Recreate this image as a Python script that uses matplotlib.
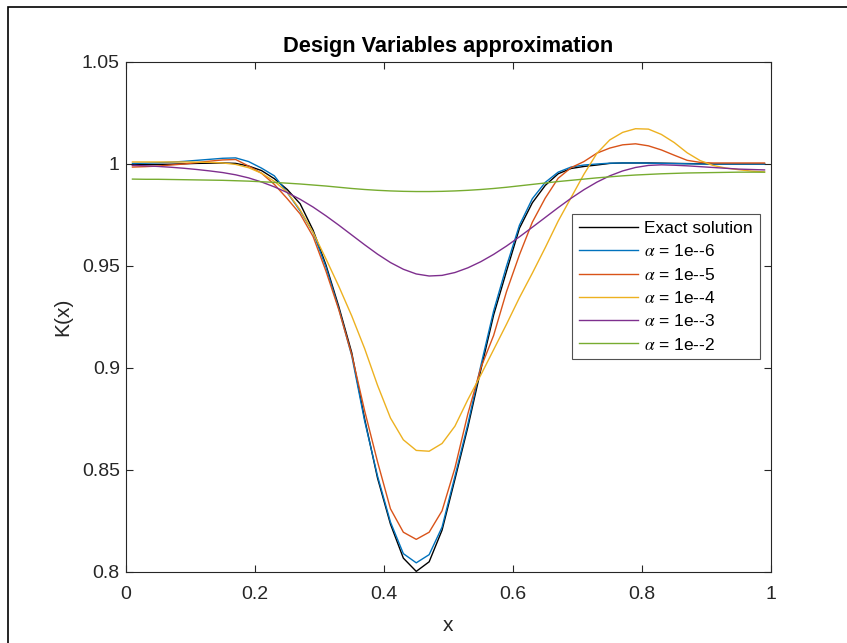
import numpy as np
import matplotlib

matplotlib.use('Agg')
import matplotlib.pyplot as plt
from matplotlib.patches import Rectangle

plt.rcParams['font.family'] = ['Liberation Sans', 'DejaVu Sans']
plt.rcParams['mathtext.fontset'] = 'stix'

# cell centres of the 50-element mesh
x = (np.arange(50) + 0.5) / 50

k_exact = [0.9996, 0.9997, 0.9998, 0.9999, 1.0001, 1.0003, 1.0004, 1.0005, 1.0003, 0.9990,
           0.9968, 0.9928, 0.9875, 0.9805, 0.9676, 0.9505, 0.9300, 0.9075, 0.8750, 0.8460,
           0.8235, 0.8068, 0.8003, 0.8050, 0.8205, 0.8455, 0.8710, 0.8990, 0.9260, 0.9475,
           0.9685, 0.9810, 0.9895, 0.9952, 0.9978, 0.9988, 0.9995, 1.0003, 1.0005, 1.0005,
           1.0005, 1.0004, 1.0003, 1.0002, 1.0001, 1.0000, 1.0000, 1.0000, 1.0000, 1.0000]

k_1e6 = [1.0003, 1.0004, 1.0006, 1.0009, 1.0013, 1.0018, 1.0023, 1.0028, 1.0030, 1.0012,
         0.9980, 0.9942, 0.9860, 0.9770, 0.9665, 0.9495, 0.9290, 0.9060, 0.8740, 0.8470,
         0.8245, 0.8090, 0.8045, 0.8085, 0.8220, 0.8470, 0.8725, 0.9010, 0.9280, 0.9500,
         0.9700, 0.9830, 0.9910, 0.9960, 0.9985, 0.9995, 1.0000, 1.0004, 1.0005, 1.0005,
         1.0004, 1.0003, 1.0002, 1.0001, 1.0000, 1.0000, 1.0000, 1.0000, 1.0000, 1.0000]

k_1e5 = [0.9985, 0.9987, 0.9990, 0.9995, 1.0000, 1.0007, 1.0014, 1.0020, 1.0022, 0.9990,
         0.9955, 0.9900, 0.9830, 0.9755, 0.9645, 0.9475, 0.9285, 0.9065, 0.8790, 0.8540,
         0.8310, 0.8195, 0.8160, 0.8195, 0.8300, 0.8510, 0.8775, 0.9000, 0.9160, 0.9375,
         0.9555, 0.9715, 0.9833, 0.9930, 0.9982, 1.0012, 1.0053, 1.0078, 1.0094, 1.0099,
         1.0089, 1.0069, 1.0043, 1.0018, 1.0008, 1.0005, 1.0005, 1.0005, 1.0005, 1.0005]

k_1e4 = [1.0010, 1.0010, 1.0010, 1.0010, 1.0010, 1.0009, 1.0008, 1.0005, 0.9998, 0.9982,
         0.9955, 0.9915, 0.9862, 0.9775, 0.9665, 0.9535, 0.9400, 0.9255, 0.9095, 0.8915,
         0.8755, 0.8648, 0.8596, 0.8592, 0.8630, 0.8715, 0.8845, 0.8965, 0.9090, 0.9215,
         0.9345, 0.9465, 0.9590, 0.9720, 0.9835, 0.9950, 1.0052, 1.0118, 1.0155, 1.0173,
         1.0171, 1.0145, 1.0105, 1.0055, 1.0017, 0.9993, 0.9980, 0.9972, 0.9965, 0.9961]

k_1e3 = [0.9993, 0.9991, 0.9988, 0.9984, 0.9979, 0.9973, 0.9966, 0.9958, 0.9947, 0.9932,
         0.9912, 0.9888, 0.9860, 0.9827, 0.9789, 0.9746, 0.9700, 0.9652, 0.9604, 0.9558,
         0.9517, 0.9484, 0.9461, 0.9451, 0.9454, 0.9468, 0.9491, 0.9521, 0.9557, 0.9598,
         0.9643, 0.9690, 0.9738, 0.9786, 0.9832, 0.9874, 0.9911, 0.9942, 0.9966, 0.9983,
         0.9993, 0.9996, 0.9994, 0.9991, 0.9987, 0.9983, 0.9979, 0.9975, 0.9973, 0.9971]

k_1e2 = [0.9926, 0.9925, 0.9925, 0.9924, 0.9923, 0.9922, 0.9921, 0.9920, 0.9918, 0.9916,
         0.9913, 0.9910, 0.9906, 0.9902, 0.9897, 0.9892, 0.9886, 0.9880, 0.9875, 0.9871,
         0.9868, 0.9866, 0.9865, 0.9865, 0.9866, 0.9868, 0.9871, 0.9875, 0.9880, 0.9886,
         0.9893, 0.9900, 0.9907, 0.9914, 0.9920, 0.9926, 0.9932, 0.9937, 0.9942, 0.9946,
         0.9949, 0.9952, 0.9954, 0.9956, 0.9957, 0.9958, 0.9959, 0.9960, 0.9960, 0.9960]

series = [
    ('Exact solution', k_exact, 'black'),
    (r'$\alpha$ = 1e--6', k_1e6, (0.0, 0.447, 0.741)),
    (r'$\alpha$ = 1e--5', k_1e5, (0.85, 0.325, 0.098)),
    (r'$\alpha$ = 1e--4', k_1e4, (0.929, 0.694, 0.125)),
    (r'$\alpha$ = 1e--3', k_1e3, (0.494, 0.184, 0.556)),
    (r'$\alpha$ = 1e--2', k_1e2, (0.466, 0.674, 0.188)),
]

x_ticks = [0, 0.2, 0.4, 0.6, 0.8, 1]
x_tick_labels = ['0', '0.2', '0.4', '0.6', '0.8', '1']
y_ticks = [0.8, 0.85, 0.9, 0.95, 1.0, 1.05]
y_tick_labels = ['0.8', '0.85', '0.9', '0.95', '1', '1.05']

axis_grey = (0.15, 0.15, 0.15)

fig = plt.figure(figsize=(8.47, 6.43), dpi=100)
fig.patches.append(Rectangle((8 / 847, -0.5), 2.0, 1.5 - 7 / 643, transform=fig.transFigure,
                             fill=False, edgecolor='black', linewidth=1.2))
ax = fig.add_axes([126 / 847, 71 / 643, 645 / 847, 510 / 643])

for label, vals, color in series:
    ax.plot(x, vals, color=color, linewidth=1.0, label=label)

ax.set_xlim(0, 1)
ax.set_ylim(0.8, 1.05)
ax.set_xticks(x_ticks)
ax.set_xticklabels(x_tick_labels)
ax.set_yticks(y_ticks)
ax.set_yticklabels(y_tick_labels)
ax.tick_params(direction='in', length=5, width=0.8, colors=axis_grey, labelsize=14,
               top=True, right=True)
ax.tick_params(axis='x', pad=10)
ax.tick_params(axis='y', pad=4.5)
for spine in ax.spines.values():
    spine.set_color(axis_grey)
    spine.set_linewidth(0.8)

ax.set_title('Design Variables approximation', fontsize=15.7, fontweight='bold', pad=7)
ax.set_xlabel('x', fontsize=15, color=axis_grey, labelpad=9.5)
ax.set_ylabel('K(x)', fontsize=15, color=axis_grey, labelpad=7)

legend = ax.legend(loc='upper left', bbox_to_anchor=(0.6915, 0.702), borderaxespad=0,
                   fontsize=12.5, frameon=True, fancybox=False, handlelength=3.4,
                   handletextpad=0.35, labelspacing=0.42, borderpad=0.4)
legend.get_frame().set_edgecolor(axis_grey)
legend.get_frame().set_linewidth(0.8)

plt.savefig('out.png', dpi=100)
